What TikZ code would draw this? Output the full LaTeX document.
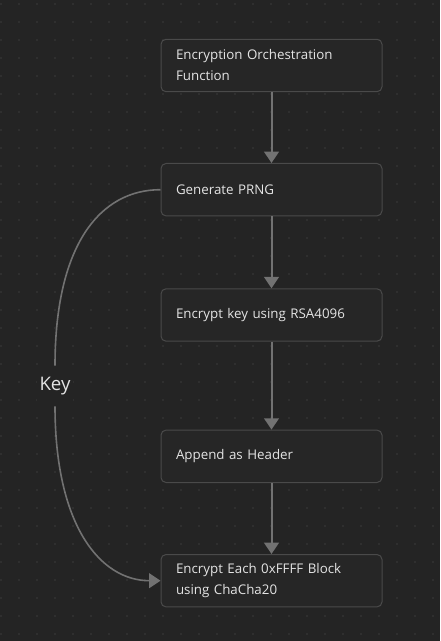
\documentclass[tikz,border=0pt]{standalone}
\usepackage{fontspec}
\setmainfont{Open Sans}
\usepackage{xcolor}
\usetikzlibrary{arrows.meta}

\definecolor{bgcol}{HTML}{242424}
\definecolor{dotcol}{HTML}{3C3C3C}
\definecolor{boxfill}{HTML}{262626}
\definecolor{boxline}{HTML}{4A4A4A}
\definecolor{linkcol}{HTML}{727272}
\definecolor{txtcol}{HTML}{E4E4E4}

\tikzset{
  stepbox/.style={draw=boxline, fill=boxfill, line width=0.75pt, rounded corners=3.75pt,
    minimum width=165.75pt, minimum height=39.3pt, text width=143.25pt, inner xsep=11.25pt,
    align=left, text=txtcol, font=\fontsize{10}{15.75}\selectfont},
  link/.style={draw=linkcol, line width=1.5pt},
  tip/.style={-{Triangle[width=11pt,length=8.5pt]}},
}

\begin{document}
\begin{tikzpicture}[x=0.75pt,y=0.75pt,yscale=-1,xscale=1]

\fill[bgcol] (0,0) rectangle (440,641);
\useasboundingbox (0,0) rectangle (440,641);

% dot grid
\foreach \gx in {1,19,...,440} {
  \foreach \gy in {4,22,...,641} {
    \fill[dotcol] (\gx,\gy) circle (0.85);
  }
}

\draw (271.5,65.5) node (orch) [stepbox] {Encryption Orchestration\\Function};

\draw (271.5,189.7) node (prng) [stepbox] {Generate PRNG};

\draw (271.5,315) node (rsa) [stepbox] {Encrypt key using RSA4096};

\draw (271.5,456.3) node (header) [stepbox] {Append as Header};

\draw (271.5,580.7) node (chacha) [stepbox] {Encrypt Each 0xFFFF Block\\using ChaCha20};

\draw (55,386) node (key) [text=txtcol, fill=bgcol, minimum height=30pt, inner xsep=2pt, font=\fontsize{14}{16}\selectfont] {Key};

\draw [link, tip] (orch) -- (prng);
\draw [link, tip] (prng) -- (rsa);
\draw [link, tip] (rsa) -- (header);
\draw [link, tip] (header) -- (chacha);

\draw [link, line width=1.2pt] (prng.west) .. controls (100,189.7) and (55,245) .. (key.north);
\draw [link, line width=1.2pt, tip] (key.south) .. controls (55,525) and (100,580.7) .. (chacha.west);

\end{tikzpicture}
\end{document}
